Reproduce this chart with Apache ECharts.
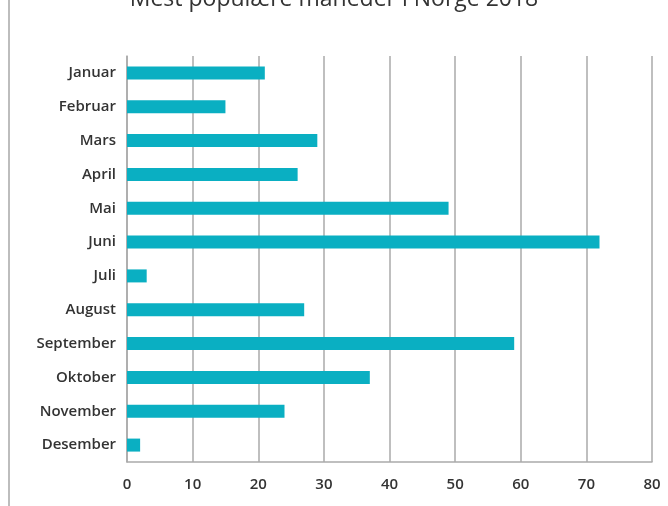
<!DOCTYPE html>
<html>
<head>
<meta charset="utf-8">
<script src="https://cdn.jsdelivr.net/npm/echarts@6/dist/echarts.min.js"></script>
<style>html,body{margin:0;padding:0;background:#fff}#c{width:668px;height:506px}</style>
</head>
<body>
<div id="c"></div>
<script>
const titleText = "Mest populære måneder i Norge 2018";
const months = ["Januar","Februar","Mars","April","Mai","Juni","Juli","August","September","Oktober","November","Desember"];
const values = [21,15,29,26,49,72,3,27,59,37,24,2];
const xTicks = [0,10,20,30,40,50,60,70,80];

const chart = echarts.init(document.getElementById('c'));
chart.setOption({
  animation:false,
  title:{text:titleText,left:'center',top:-17,textStyle:{fontFamily:'Open Sans',fontSize:23,fontWeight:'normal',color:'#333'}},
  graphic:[{type:'line',shape:{x1:9,y1:0,x2:9,y2:506},style:{stroke:'#bdbdbd',lineWidth:2}}],
  grid:{left:127,right:16,top:56,bottom:44},
  xAxis:{type:'value',min:xTicks[0],max:xTicks[xTicks.length-1],interval:10,
    axisLine:{show:true,lineStyle:{color:'#aaa',width:1.5}},
    axisTick:{show:false},
    splitLine:{show:true,lineStyle:{color:'#aaa',width:1.5}},
    axisLabel:{margin:15,color:'#333',fontFamily:'Open Sans',fontSize:15,fontWeight:600}},
  yAxis:{type:'category',data:months,inverse:true,
    axisLine:{show:true,lineStyle:{color:'#aaa',width:1.5}},
    axisTick:{show:false},
    axisLabel:{margin:11,color:'#333',fontFamily:'Open Sans',fontSize:15,fontWeight:600}},
  series:[{type:'bar',data:values,barWidth:13,itemStyle:{color:'#0aafc2'}}]
});
</script>
</body>
</html>
